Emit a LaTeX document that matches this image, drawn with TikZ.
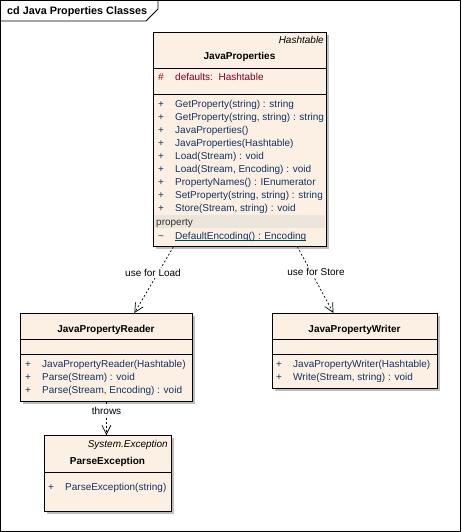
\documentclass[tikz,border=0pt]{standalone}
\usepackage{fontspec}
\setmainfont{Liberation Sans}
\usetikzlibrary{arrows.meta,positioning,shadows}
\definecolor{umlfill}{RGB}{251,240,227}
\definecolor{shadowcol}{RGB}{190,190,190}
\definecolor{memcol}{RGB}{20,50,100}
\definecolor{attrcol}{RGB}{128,0,32}
\definecolor{protcol}{RGB}{170,0,0}
\definecolor{bandcol}{RGB}{236,229,219}
\definecolor{ulcol}{RGB}{0,70,70}
\newcommand{\vis}[2]{\makebox[17pt][l]{#1}#2}

\begin{document}
\begin{tikzpicture}[x=1pt,y=-1pt,font=\fontsize{10}{12}\selectfont,
 box/.style={draw,line width=0.8pt,fill=umlfill,anchor=north west,inner sep=0pt,
  drop shadow={shadow xshift=3pt,shadow yshift=-3pt,fill=shadowcol,opacity=1}},
 title/.style={font=\fontsize{10}{12}\selectfont\bfseries,anchor=base,inner sep=0pt},
 stereo/.style={font=\fontsize{10}{12}\selectfont\itshape,anchor=base east,inner sep=0pt},
 mem/.style={anchor=base west,inner sep=0pt,text=memcol},
 lbl/.style={fill=white,inner sep=1.5pt},
 sep/.style={line width=0.8pt},
 dep/.style={draw,line width=0.7pt,dash pattern=on 2pt off 2pt,
  -{Straight Barb[length=9pt,width=9pt,line width=0.7pt]}}]
\useasboundingbox (0,0) rectangle (461,532);
% frame and tab
\draw[line width=0.9pt] (0.8,0.8) rectangle (460.2,531.2);
\draw[line width=0.9pt] (0.8,21) -- (146,21) -- (158,9) -- (158,0.8);
\node[font=\fontsize{10.8}{12}\selectfont\bfseries,anchor=base west,inner sep=0pt] (frm) at (7,15) {cd Java Properties Classes};
% JavaProperties
\node[box,minimum width=173pt,minimum height=214pt] (jp) at (153,32) {};
\fill[bandcol] (153.6,215) rectangle (325.4,228);
\draw[sep] (jp.west |- 0,68) -- (jp.east |- 0,68);
\draw[sep] (jp.west |- 0,94) -- (jp.east |- 0,94);
\node[stereo] (jpbase) at (324,43.5) {Hashtable};
\node[title] (jpname) at (239.5,59.5) {JavaProperties};
\node[mem,text=attrcol] (jpa) at (158,80.5) {\vis{\textcolor{protcol}{\#}}{defaults:\ \ Hashtable}};
\node[mem] (jpm1) at (158,107.3) {\vis{+}{GetProperty(string) : string}};
\node[mem] (jpm2) at (158,120.3) {\vis{+}{GetProperty(string, string) : string}};
\node[mem] (jpm3) at (158,133.3) {\vis{+}{JavaProperties()}};
\node[mem] (jpm4) at (158,146.3) {\vis{+}{JavaProperties(Hashtable)}};
\node[mem] (jpm5) at (158,159.3) {\vis{+}{Load(Stream) : void}};
\node[mem] (jpm6) at (158,172.3) {\vis{+}{Load(Stream, Encoding) : void}};
\node[mem] (jpm7) at (158,185.3) {\vis{+}{PropertyNames() : IEnumerator}};
\node[mem] (jpm8) at (158,198.3) {\vis{+}{SetProperty(string, string) : string}};
\node[mem] (jpm9) at (158,211.3) {\vis{+}{Store(Stream, string) : void}};
\node[mem,text=black!80] (jpprop) at (156,225.5) {property};
\node[mem] (jptl) at (158,239) {\textasciitilde};
\node[mem] (jpde) at (175,239) {DefaultEncoding() : Encoding};
\draw[ulcol,line width=0.7pt] ([yshift=-1.8pt]jpde.base west) -- ([yshift=-1.8pt]jpde.base east);
% JavaPropertyReader
\node[box,minimum width=172pt,minimum height=88pt] (rd) at (20,313) {};
\draw[sep] (rd.west |- 0,339) -- (rd.east |- 0,339);
\draw[sep] (rd.west |- 0,354) -- (rd.east |- 0,354);
\node[title] (rdname) at (106,332.5) {JavaPropertyReader};
\node[mem] (rdm1) at (25,367.5) {\vis{+}{JavaPropertyReader(Hashtable)}};
\node[mem] (rdm2) at (25,380.3) {\vis{+}{Parse(Stream) : void}};
\node[mem] (rdm3) at (25,393) {\vis{+}{Parse(Stream, Encoding) : void}};
% JavaPropertyWriter
\node[box,minimum width=165pt,minimum height=75pt] (wr) at (272,313) {};
\draw[sep] (wr.west |- 0,339) -- (wr.east |- 0,339);
\draw[sep] (wr.west |- 0,354) -- (wr.east |- 0,354);
\node[title] (wrname) at (354.5,332.5) {JavaPropertyWriter};
\node[mem] (wrm1) at (276,367.5) {\vis{+}{JavaPropertyWriter(Hashtable)}};
\node[mem] (wrm2) at (276,380.5) {\vis{+}{Write(Stream, string) : void}};
% ParseException
\node[box,minimum width=127pt,minimum height=76pt] (pe) at (44,435) {};
\draw[sep] (pe.west |- 0,472) -- (pe.east |- 0,472);
\node[stereo] (pebase) at (168,447.5) {System.Exception};
\node[title] (pename) at (107.5,464.5) {ParseException};
\node[mem] (pem1) at (48,490.5) {\vis{+}{ParseException(string)}};
% dependencies
\draw[dep] ([xshift=-66.5pt]jp.south) -- ([xshift=28pt]rd.north);
\draw[dep] ([xshift=57.5pt]jp.south) -- ([xshift=-21.5pt]wr.north);
\draw[dep] (rd.south) -- (rd.south |- pe.north);
\node[lbl] (ldload) at (153,273) {use for Load};
\node[lbl] (ldstore) at (316,272) {use for Store};
\node[lbl] (ldthrows) at (106.5,411) {throws};
\end{tikzpicture}
\end{document}
